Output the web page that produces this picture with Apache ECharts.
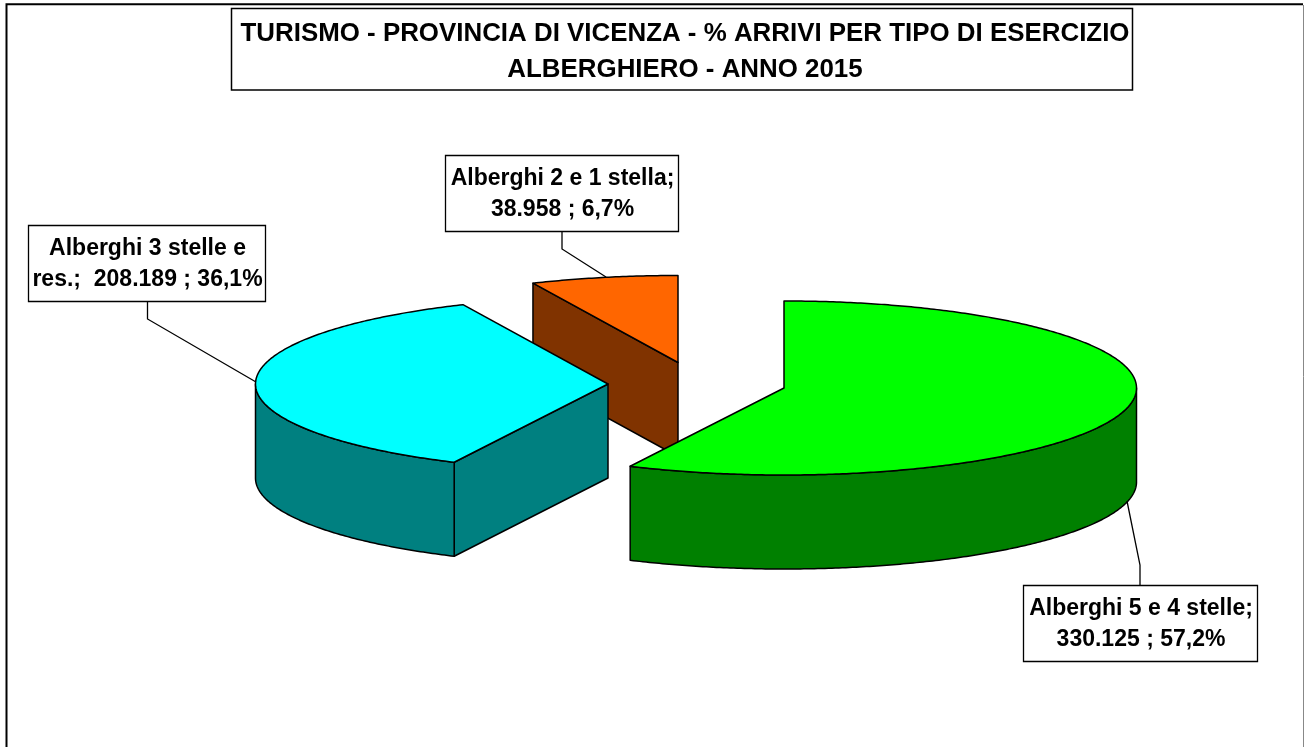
<!DOCTYPE html>
<html>
<head>
<meta charset="utf-8">
<style>html,body{margin:0;padding:0;background:#fff}#c{width:1304px;height:747px}</style>
<script src="https://cdn.jsdelivr.net/npm/echarts@6/dist/echarts.min.js"></script>
</head>
<body>
<div id="c"></div>
<script>
// ---- data ----
const categories = ['Alberghi 5 e 4 stelle', 'Alberghi 3 stelle e res.', 'Alberghi 2 e 1 stella'];
const arrivals = [330125, 208189, 38958];
const valueLabels = ['330.125', '208.189', '38.958'];
const percentLabels = ['57,2%', '36,1%', '6,7%'];
const titleText = 'TURISMO - PROVINCIA DI VICENZA - % ARRIVI PER TIPO DI ESERCIZIO\nALBERGHIERO - ANNO 2015';

// ---- layout / style ----
const topColors = ['#00ff00', '#00ffff', '#ff6600'];
const sideColors = ['#008000', '#008080', '#803300'];
const centers = [[784, 388], [608, 384], [678, 362.5]];
const RX = 352.5, RY = 87, DEPTH = 94;
const labelBoxes = [[1023, 585, 234, 76], [28, 225, 237, 76], [445, 155, 233, 76]];
const leaders = [
  [[1140, 585], [1140, 565], [1127, 501]],
  [[147.5, 301], [147.5, 319], [256, 382]],
  [[562, 231], [562, 249], [606, 277]]
];
const labelText = i => {
  const c = categories[i];
  const head = i === 1 ? c.replace(' res.', '\nres.;  ') : c + ';\n';
  return head + valueLabels[i] + ' ; ' + percentLabels[i];
};

const total = arrivals.reduce((a, b) => a + b, 0);
const startAngles = arrivals.map((_, i) =>
  arrivals.slice(0, i).reduce((a, b) => a + b, 0) / total * Math.PI * 2);

const edge = { stroke: '#000', lineWidth: 1.5, lineJoin: 'round' };

function renderSlice(params, api) {
  const i = api.value(1);
  const a0 = startAngles[i];
  const a1 = a0 + api.value(0) / total * Math.PI * 2;
  const [cx, cy] = centers[i];
  const pt = (a, dz) => [cx + RX * Math.sin(a), cy - RY * Math.cos(a) + (dz || 0)];
  const arc = (s, e, dz) => {
    const n = Math.max(2, Math.ceil((e - s) / 0.01));
    const out = [];
    for (let k = 0; k <= n; k++) out.push(pt(s + (e - s) * k / n, dz));
    return out;
  };
  const poly = (points, fill) => ({
    type: 'polygon', shape: { points }, style: Object.assign({ fill }, edge)
  });
  const kids = [];
  // radial walls: only those whose outward normal faces the viewer
  if (Math.cos(a0 - Math.PI / 2) < -1e-6) {
    kids.push(poly([[cx, cy], pt(a0), pt(a0, DEPTH), [cx, cy + DEPTH]], sideColors[i]));
  }
  if (Math.cos(a1 + Math.PI / 2) < -1e-6) {
    kids.push(poly([[cx, cy], pt(a1), pt(a1, DEPTH), [cx, cy + DEPTH]], sideColors[i]));
  }
  // outer wall: only the front half of the rim is visible
  const s = Math.max(a0, Math.PI / 2), e = Math.min(a1, Math.PI * 1.5);
  if (e > s) {
    kids.push(poly(arc(s, e, 0).concat(arc(s, e, DEPTH).reverse()), sideColors[i]));
  }
  // top face
  kids.push(poly([[cx, cy]].concat(arc(a0, a1, 0)), topColors[i]));
  return { type: 'group', children: kids };
}

function renderLabel(params, api) {
  const i = api.value(1);
  const [x, y, w, h] = labelBoxes[i];
  return {
    type: 'group',
    children: [
      { type: 'polyline', shape: { points: leaders[i] }, style: { stroke: '#000', lineWidth: 1.3, fill: null } },
      { type: 'rect', shape: { x: x + 0.5, y: y + 0.5, width: w, height: h }, style: { fill: '#fff', stroke: '#000', lineWidth: 1.3 } },
      { type: 'text', x: x + w / 2 + 1, y: y + h / 2 + 1,
        style: { text: labelText(i), fill: '#000', font: 'bold 23px "Liberation Sans", Arial, sans-serif',
                 align: 'center', verticalAlign: 'middle', lineHeight: 31 } }
    ]
  };
}

const rows = arrivals.map((v, i) => [v, i]);
const chart = echarts.init(document.getElementById('c'), null, { renderer: 'canvas' });
chart.setOption({
  animation: false,
  backgroundColor: '#fff',
  title: {
    text: titleText, left: 685, top: 16, textAlign: 'center', padding: [0, 0, 0, 0],
    textStyle: { fontFamily: '"Liberation Sans", Arial, sans-serif', fontWeight: 'bold', fontSize: 25.9, lineHeight: 36, color: '#000' }
  },
  graphic: [
    { type: 'polyline', z: 0, shape: { points: [[6.5, 760], [6.5, 4.3], [1303, 4.3]] }, style: { stroke: '#000', lineWidth: 2, fill: null } },
    { type: 'line', z: 0, shape: { x1: 1303.5, y1: 5, x2: 1303.5, y2: 760 }, style: { stroke: '#888', lineWidth: 1 } },
    { type: 'rect', z: 0, shape: { x: 231.5, y: 8.5, width: 901, height: 81.5 }, style: { fill: '#fff', stroke: '#000', lineWidth: 1.5 } }
  ],
  series: [
    { type: 'custom', coordinateSystem: 'none', z: 2, data: rows.slice().reverse(), renderItem: renderSlice, silent: true },
    { type: 'custom', coordinateSystem: 'none', z: 3, data: rows, renderItem: renderLabel, silent: true }
  ]
});
</script>
</body>
</html>
